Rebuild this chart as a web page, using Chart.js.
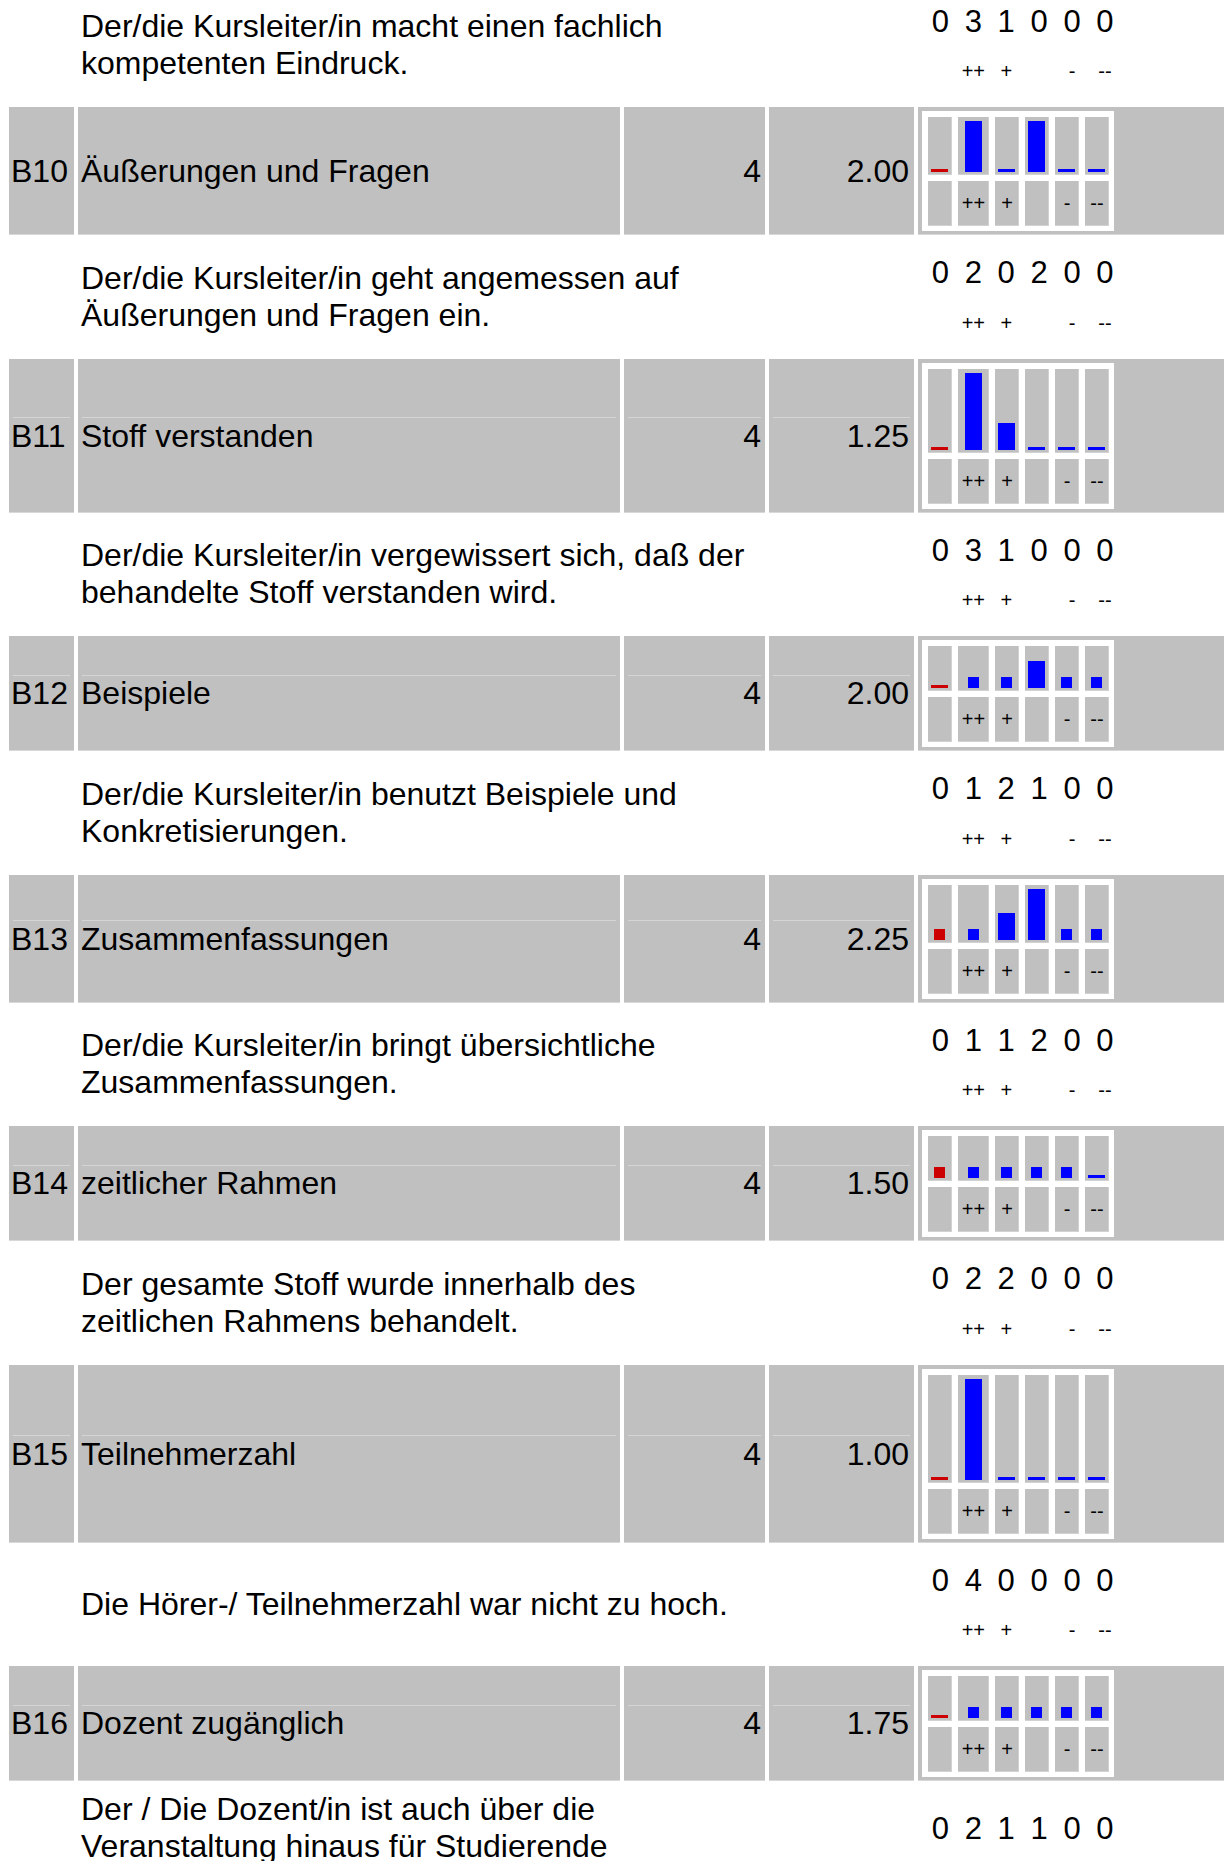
<!DOCTYPE html>
<html lang="de">
<head>
<meta charset="utf-8">
<title>Lehrveranstaltungsbewertung B10 - B16</title>
<script src="https://cdn.jsdelivr.net/npm/chart.js@4.4.1/dist/chart.umd.min.js"></script>
<style>
  html, body { margin: 0; padding: 0; background: #fff; }
  body { width: 1224px; height: 1861px; overflow: hidden; position: relative;
         font-family: "Liberation Sans", Arial, sans-serif; color: #000; }
  .cell { position: absolute; background: #c0c0c0; box-shadow: inset 0 -1px 0 #d8d8d8;
          display: flex; align-items: center; font-size: 32px; white-space: nowrap; box-sizing: border-box; }
  .rule { position: absolute; height: 1px; background: #d5d5d5; }
  .desc { position: absolute; left: 81px; width: 680px; font-size: 32px; line-height: 37px; transform: translateY(-50%); }
  .cnt { position: absolute; left: 924px; display: grid; grid-template-columns: repeat(6, 32.9px);
         text-align: center; transform: translateY(-50%); white-space: nowrap; }
  .mini { position: absolute; left: 922px; background: #fff; display: grid; gap: 6px;
          padding: 6px 5px 5px 6px; grid-template-columns: 24px 31px 24px 24px 24px 24px; }
  .mini > div { background: #c0c0c0; box-shadow: inset -1px -1px 0 #d2d2d2; }
  .mini .lab { font-size: 20px; text-align: center; line-height: 45px; }
  canvas { display: block; }
</style>
</head>
<body>
<script>
// Fragen B10 - B16
var ids = ['B10', 'B11', 'B12', 'B13', 'B14', 'B15', 'B16'];
var titles = ['Äußerungen und Fragen', 'Stoff verstanden', 'Beispiele', 'Zusammenfassungen',
              'zeitlicher Rahmen', 'Teilnehmerzahl', 'Dozent zugänglich'];
var answers = [4, 4, 4, 4, 4, 4, 4];
var means = [2.00, 1.25, 2.00, 2.25, 1.50, 1.00, 1.75];
var descriptions = [
  'Der/die Kursleiter/in geht angemessen auf Äußerungen und Fragen ein.',
  'Der/die Kursleiter/in vergewissert sich, daß der behandelte Stoff verstanden wird.',
  'Der/die Kursleiter/in benutzt Beispiele und Konkretisierungen.',
  'Der/die Kursleiter/in bringt übersichtliche Zusammenfassungen.',
  'Der gesamte Stoff wurde innerhalb des zeitlichen Rahmens behandelt.',
  'Die Hörer-/ Teilnehmerzahl war nicht zu hoch.',
  'Der / Die Dozent/in ist auch über die Veranstaltung hinaus für Studierende'
];
// Antworten je Stufe: keine Angabe, ++, +, 0, -, --
var counts = [
  [0, 2, 0, 2, 0, 0],
  [0, 3, 1, 0, 0, 0],
  [0, 1, 2, 1, 0, 0],
  [0, 1, 1, 2, 0, 0],
  [0, 2, 2, 0, 0, 0],
  [0, 4, 0, 0, 0, 0],
  [0, 2, 1, 1, 0, 0]
];
// Balkenhoehen
var barHeights = [
  [0, 51, 0, 51, 0, 0],
  [0, 77, 27, 0, 0, 0],
  [0, 11, 11, 27, 11, 11],
  [11, 11, 27, 51, 11, 11],
  [11, 11, 11, 11, 11, 0],
  [0, 101, 0, 0, 0, 0],
  [0, 11, 11, 11, 11, 11]
];
var scaleLabels = ['', '++', '+', '', '-', '--'];
// Rest der vorigen Frage (B9) oben
var prevDescription = 'Der/die Kursleiter/in macht einen fachlich kompetenten Eindruck.';
var prevCounts = [0, 3, 1, 0, 0, 0];

var RED = '#cc0000', BLUE = '#0000ff';
var colW = [24, 31, 24, 24, 24, 24];
var FIRST_TOP = 107, GAP = 123.2;

function el(parent, cls, css, text) {
  var d = document.createElement('div');
  d.className = cls;
  Object.assign(d.style, css || {});
  if (text != null) d.textContent = text;
  parent.appendChild(d);
  return d;
}

function countsBlock(vals, center, withLabels) {
  var top = el(document.body, 'cnt', { top: (center - 23.5) + 'px', fontSize: '31px', lineHeight: '36px' });
  vals.forEach(function (v) { el(top, '', {}, String(v)); });
  if (!withLabels) return;
  var bot = el(document.body, 'cnt', { top: (center + 26) + 'px', fontSize: '20px', lineHeight: '24px' });
  scaleLabels.forEach(function (s) { el(bot, '', {}, s); });
}

function descRow(text, vals, center, textShift, cntShift, withLabels) {
  el(document.body, 'desc', { top: (center + textShift) + 'px' }, text);
  countsBlock(vals, center + cntShift, withLabels);
}

function miniChart(i, top) {
  var heights = barHeights[i];
  var plotH = Math.max(38, Math.max.apply(null, heights));
  var topH = plotH + 7;
  var box = el(document.body, 'mini', { top: (top + 4) + 'px', gridTemplateRows: topH + 'px 45px' });
  heights.forEach(function (v, j) {
    var cell = el(box, '');
    var cv = document.createElement('canvas');
    cv.width = colW[j];
    cv.height = topH;
    cell.appendChild(cv);
    var thick = (v > 0 && v < 17) ? v : 17;
    new Chart(cv, {
      type: 'bar',
      data: {
        labels: [scaleLabels[j] || String(j)],
        datasets: [{
          data: [v],
          backgroundColor: j === 0 ? RED : BLUE,
          barThickness: thick,
          minBarLength: 3,
          inflateAmount: 0,
          borderWidth: 0
        }]
      },
      options: {
        responsive: false,
        animation: false,
        events: [],
        layout: { padding: { top: 4, bottom: 3, left: 0, right: (colW[j] - thick) % 2 ? 1 : 0 } },
        plugins: { legend: { display: false }, tooltip: { enabled: false } },
        scales: {
          x: { display: false },
          y: { display: false, min: 0, max: plotH }
        }
      }
    });
  });
  scaleLabels.forEach(function (s) { el(box, 'lab', {}, s); });
  return topH;
}

function grayRow(i, top, h) {
  var t = Math.round(top), hh = Math.round(top + h) - t;
  var base = { top: t + 'px', height: hh + 'px' };
  el(document.body, 'cell', Object.assign({ left: '9px', width: '65px', paddingLeft: '2px' }, base), ids[i]);
  el(document.body, 'cell', Object.assign({ left: '78px', width: '542px', paddingLeft: '3px' }, base), titles[i]);
  el(document.body, 'cell', Object.assign({ left: '624px', width: '141px', justifyContent: 'flex-end', paddingRight: '4px' }, base), String(answers[i]));
  el(document.body, 'cell', Object.assign({ left: '769px', width: '145px', justifyContent: 'flex-end', paddingRight: '5px' }, base), means[i].toFixed(2));
  el(document.body, 'cell', Object.assign({ left: '918px', width: '320px' }, base));
  // feine helle Linie in der Zeile (fehlt bei der ersten)
  if (i > 0) {
    var ry = Math.round(top + h / 2 - 19);
    [[9, 65], [78, 542], [624, 141], [769, 145]].forEach(function (c) {
      el(document.body, 'rule', { left: (c[0] + 4) + 'px', width: (c[1] - 8) + 'px', top: ry + 'px' });
    });
  }
}

// Beschreibung der vorigen Frage
descRow(prevDescription, prevCounts, FIRST_TOP - GAP / 2, 0, 0, true);

var y = FIRST_TOP;
ids.forEach(function (id, i) {
  var plotH = Math.max(38, Math.max.apply(null, barHeights[i]));
  var h = plotH + 7 + 70.3;
  grayRow(i, y, h);
  miniChart(i, Math.round(y));
  var bottom = y + h;
  var last = i === ids.length - 1;
  // letzte Beschreibung laeuft unter den Bildrand; ihre Skalenzeile liegt ausserhalb
  descRow(descriptions[i], counts[i], bottom + GAP / 2, last ? -14.5 : 0, last ? 9.5 : 0, !last);
  y = bottom + GAP;
});
</script>
</body>
</html>
